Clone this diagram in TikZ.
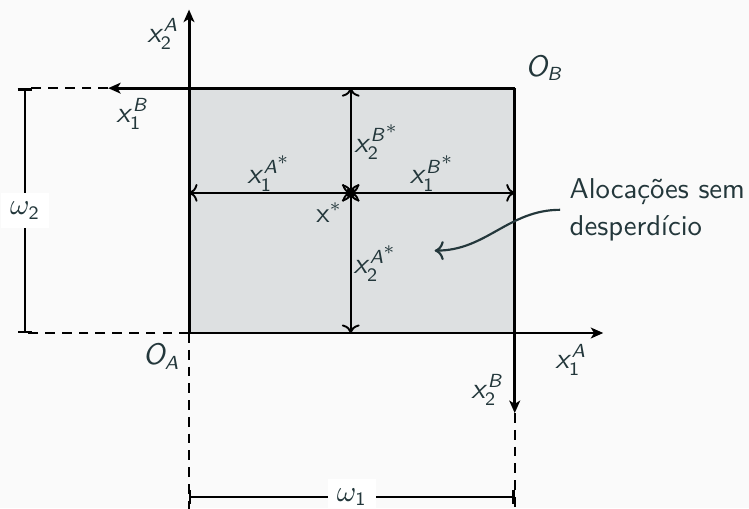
\documentclass[tikz,border=0pt]{standalone}
\renewcommand{\familydefault}{\sfdefault}
\DeclareSymbolFont{sfit}{OT1}{cmss}{m}{sl}
\DeclareSymbolFont{sfup}{OT1}{cmss}{m}{n}
\DeclareMathSymbol{x}{\mathalpha}{sfit}{`x}
\DeclareMathSymbol{A}{\mathalpha}{sfit}{`A}
\DeclareMathSymbol{B}{\mathalpha}{sfit}{`B}
\DeclareMathSymbol{O}{\mathalpha}{sfit}{`O}
\DeclareMathSymbol{1}{\mathalpha}{sfup}{`1}
\DeclareMathSymbol{2}{\mathalpha}{sfup}{`2}
\newcommand{\estrela}{^{\scriptstyle *}}
\usetikzlibrary{arrows.meta}
\definecolor{fundo}{HTML}{FAFAFA}
\definecolor{caixa}{HTML}{DDE0E1}
\definecolor{texto}{HTML}{23373B}
\tikzset{
  eixo/.style={line width=1.1pt,-{Stealth[length=4.6pt,width=4pt,inset=1.2pt]}},
  interno/.style={line width=0.7pt,<->},
  tracejado/.style={line width=0.9pt,dash pattern=on 3.6pt off 2.6pt},
  cota/.style={line width=0.9pt,{Bar[width=5.5pt]}-{Bar[width=5.5pt]}},
  rotulo/.style={text=texto,font=\fontsize{10.6pt}{13.6pt}\selectfont},
}
\begin{document}
\begin{tikzpicture}
      \useasboundingbox[fill=fundo] (-2.455,-2.273) rectangle (7.273,4.325);
      % Origens e alocacao
      \coordinate (OA) at (0,0);
      \coordinate (OB) at (4.23,3.18);
      \coordinate (xs) at (2.1,1.82);
      % Caixa cinza
      \fill[caixa] (OA) rectangle (OB);
      % Tracejados
      \draw[tracejado] (OA) -- (-2.13,0) coordinate (w2a);
      \draw[tracejado] (-1.05,3.18) -- (-2.13,3.18) coordinate (w2b);
      \draw[tracejado] (OA) -- (0,-2.3) coordinate (w1a);
      \draw[tracejado] (4.23,-1.04) -- (4.23,-2.3) coordinate (w1b);
      % Eixos de A
      \draw[eixo] (OA) -- (0,4.2) coordinate (a2);
      \draw[eixo] (OA) -- (5.38,0) coordinate (a1);
      % Eixos de B
      \draw[eixo] (OB) -- (-1.05,3.18) coordinate (b1);
      \draw[eixo] (OB) -- (4.23,-1.04) coordinate (b2);
      % Cotas
      \draw[cota] (w2a) -- node[fill=white,rotulo] (w2) {$\omega_2$} (w2b);
      \draw[cota] (0,-2.13) -- node[fill=white,rotulo] (w1) {$\omega_1$} (4.23,-2.13);
      % Alocacao x*
      \draw[interno] (xs) -- (xs -| OA);
      \draw[interno] (xs) -- (xs -| OB);
      \draw[interno] (xs) -- (xs |- OB);
      \draw[interno] (xs) -- (xs |- OA);
      \fill (xs) circle (0.065);
      % Rotulos
      \node[rotulo] (lx2A) at (-0.34,3.88) {$x_2^A$};
      \node[rotulo] (lx1B) at (-0.73,2.84) {$x_1^B$};
      \node[rotulo] (lOB) at (4.62,3.44) {$O_B$};
      \node[rotulo] (lOA) at (-0.36,-0.31) {$O_A$};
      \node[rotulo] (lx1A) at (4.96,-0.35) {$x_1^A$};
      \node[rotulo] (lx2B) at (3.88,-0.74) {$x_2^B$};
      \node[rotulo] (lx1As) at (1.04,2.07) {$x_1^{A\estrela}$};
      \node[rotulo] (lx1Bs) at (3.16,2.07) {$x_1^{B\estrela}$};
      \node[rotulo] (lx2Bs) at (2.44,2.48) {$x_2^{B\estrela}$};
      \node[rotulo] (lx2As) at (2.42,0.90) {$x_2^{A\estrela}$};
      \node[rotulo] (lxs) at (1.82,1.56) {x$^*$};
      % Nota
      \node[rotulo,align=left,anchor=west] (nota) at (4.82,1.6) {Alocações sem\\desperdício};
      \draw[texto,line width=0.8pt,->] (nota.west) to[out=180,in=0] (3.19,1.07);
    \end{tikzpicture}
\end{document}
